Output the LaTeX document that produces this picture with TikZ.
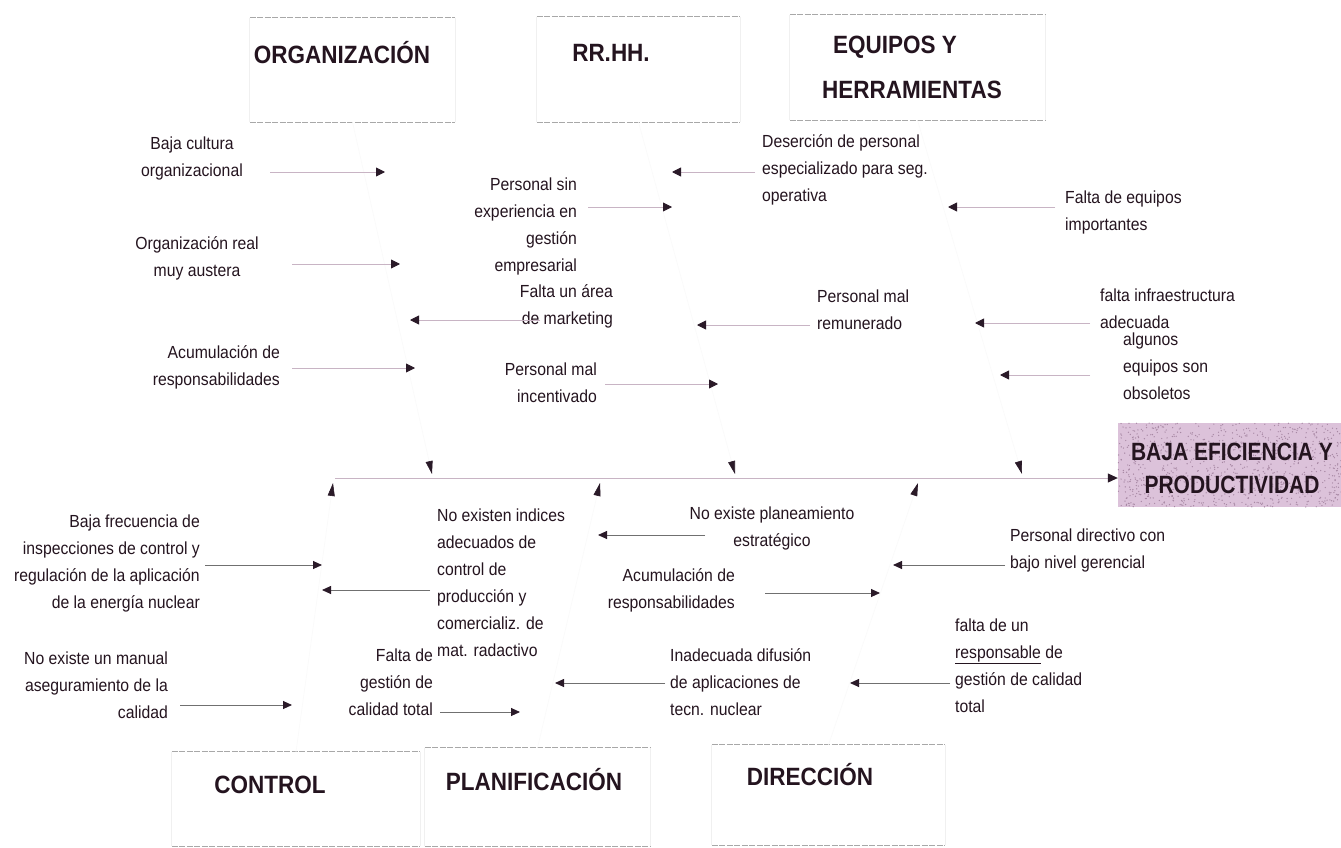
\documentclass[tikz,border=0pt]{standalone}
\usepackage{fontspec}
\setmainfont{Liberation Sans}
\newfontfamily\causefont{Liberation Sans}[FakeStretch=0.9]
\newfontfamily\headfont{Liberation Sans}[FakeStretch=0.9]
\newfontfamily\effectfont{Liberation Sans}[FakeStretch=0.84]
\usetikzlibrary{arrows.meta}

\definecolor{txtcol}{HTML}{24141F}
\definecolor{tipcol}{HTML}{2A1A28}
\definecolor{faintline}{HTML}{C8B4C4}
\definecolor{darkline}{HTML}{707070}
\definecolor{boxedge}{HTML}{A8A8A8}
\definecolor{boxside}{HTML}{F0F0F0}
\definecolor{effectfill}{HTML}{DCC2DA}
\definecolor{speck}{HTML}{A888A4}

\tikzset{
  cause/.style={font=\causefont\fontsize{17.5}{27}\selectfont, text=txtcol, inner sep=0pt},
  head/.style={font=\headfont\bfseries\fontsize{25}{33}\selectfont, text=txtcol, inner sep=0pt},
  efftext/.style={font=\effectfont\bfseries\fontsize{25}{33}\selectfont, text=txtcol, inner sep=0pt},
  catbox/.style={draw=none, inner sep=0pt},
  boxtop/.style={draw=boxedge, line width=0.8pt, dash pattern=on 6pt off 1.5pt},
  boxsidestyle/.style={draw=boxside, line width=0.8pt},
  upcause/.style={draw=faintline, line width=0.9pt, -{Triangle[length=9pt,width=9pt,color=tipcol]}},
  lowcause/.style={draw=darkline, line width=0.9pt, -{Triangle[length=9pt,width=8pt,color=tipcol]}},
  spine/.style={draw=faintline, line width=1pt, -{Triangle[length=10pt,width=9pt,color=tipcol]}},
  bone/.style={draw=black!2, line width=0.6pt, -{Triangle[length=13pt,width=7pt,color=tipcol]}},
}

\begin{document}
\begin{tikzpicture}[x=1pt,y=-1pt]
\useasboundingbox (0,0) rectangle (1341,848);
\fill[white] (0,0) rectangle (1341,848);

% ---------- category boxes ----------
\node[catbox, minimum width=205pt, minimum height=104pt] (orgbox)   at (352.5,70)  {};
\node[catbox, minimum width=203pt, minimum height=105pt] (rrhhbox)  at (638.5,69.5) {};
\node[catbox, minimum width=255pt, minimum height=105pt] (equipbox) at (917.5,67.5) {};
\node[catbox, minimum width=248pt, minimum height=94pt]  (ctrlbox)  at (296,799)   {};
\node[catbox, minimum width=225pt, minimum height=98pt]  (planbox)  at (537.5,797) {};
\node[catbox, minimum width=233pt, minimum height=100pt] (direcbox) at (828.5,795) {};

\foreach \b in {orgbox,rrhhbox,equipbox,ctrlbox,planbox,direcbox}{
  \draw[boxsidestyle] (\b.north west) -- (\b.south west) (\b.north east) -- (\b.south east);
  \draw[boxtop] (\b.north west) -- (\b.north east);
  \draw[boxtop] (\b.south west) -- (\b.south east);
}

\node[head] (orgtxt)    at (342,53) {ORGANIZACIÓN};
\node[head] (rrhhtxt)   at (611,53) {RR.HH.};
\node[head] (equiptxta) at (895,47) {EQUIPOS Y};
\node[head] (equiptxtb) at (912,90) {HERRAMIENTAS};
\node[head] (ctrltxt)   at (270,785) {CONTROL};
\node[head] (plantxt)   at (534,780) {PLANIFICACIÓN};
\node[head] (directxt)  at (810,775) {DIRECCIÓN};

% ---------- effect ----------
\node[catbox, minimum width=223pt, minimum height=84pt, fill=effectfill] (effect) at (1229.5,465) {};
\begin{scope}
  \clip (effect.north west) rectangle (effect.south east);
  \pgfmathsetseed{42}
  \foreach \k in {1,...,900}{
    \fill[speck] ({1118+223*rnd},{423+84*rnd}) circle (0.7pt);
  }
\end{scope}
\node[efftext, align=center] (efftxt) at (1232,468) {BAJA EFICIENCIA Y\\PRODUCTIVIDAD};

% ---------- spine and bones ----------
\coordinate (spStart) at (335,478);
\draw[spine] (spStart) -- (spStart -| effect.west);

\coordinate (tOrg)   at (432,474);
\coordinate (tRrhh)  at (735,474);
\coordinate (tEquip) at (1022,474);
\coordinate (tCtrl)  at (333,483);
\coordinate (tPlan)  at (600,483);
\coordinate (tDirec) at (918,483);
\draw[bone] (orgbox.south)   -- (tOrg);
\draw[bone] (rrhhbox.south)  -- (tRrhh);
\draw[bone] (equipbox.south) -- (tEquip);
\draw[bone] (ctrlbox.north)  -- (tCtrl);
\draw[bone] (planbox.north)  -- (tPlan);
\draw[bone] (direcbox.north) -- (tDirec);

% ---------- upper causes ----------
\node[cause, align=center] (c1) at (192,158) {Baja cultura\\organizacional};
\node[cause, align=right, anchor=east] (c2) at (577,226.5) {Personal sin\\experiencia en\\gestión\\empresarial};
\node[cause, align=left, anchor=west] (c3) at (762,170) {Deserción de personal\\especializado para seg.\\operativa};
\node[cause, align=left, anchor=west] (c4) at (1065,212.5) {Falta de equipos\\importantes};
\node[cause, align=center] (c5) at (197,258.5) {Organización real\\muy austera};
\node[cause, align=right, anchor=east] (c6) at (613,306.5) {Falta un área\\de marketing};
\node[cause, align=left, anchor=west] (c7) at (817,310) {Personal mal\\remunerado};
\node[cause, align=left, anchor=west] (c8) at (1100,309) {falta infraestructura\\adecuada};
\node[cause, align=left, anchor=west] (c9) at (1123,366.5) {algunos\\equipos son\\obsoletos};
\node[cause, align=right, anchor=east] (c10) at (280,367.5) {Acumulación de\\responsabilidades};
\node[cause, align=right, anchor=east] (c11) at (597,383) {Personal mal\\incentivado};

\coordinate (a1s) at (270,172);  \coordinate (a1e) at (385,172);
\coordinate (a2s) at (588,207);  \coordinate (a2e) at (672,207);
\coordinate (a3s) at (755,172);  \coordinate (a3e) at (672,172);
\coordinate (a4s) at (1055,207); \coordinate (a4e) at (948,207);
\coordinate (a5s) at (292,264);  \coordinate (a5e) at (400,264);
\coordinate (a6s) at (540,320);  \coordinate (a6e) at (410,320);
\coordinate (a7s) at (810,325);  \coordinate (a7e) at (697,325);
\coordinate (a8s) at (1090,323); \coordinate (a8e) at (975,323);
\coordinate (a9s) at (1090,375); \coordinate (a9e) at (1000,375);
\coordinate (a10s) at (292,368); \coordinate (a10e) at (415,368);
\coordinate (a11s) at (605,384); \coordinate (a11e) at (718,384);
\foreach \i in {1,...,11}{ \draw[upcause] (a\i s) -- (a\i e); }

% ---------- lower causes ----------
\node[cause, align=right, anchor=east] (d1) at (200,563.5) {Baja frecuencia de\\inspecciones de control y\\regulación de la aplicación\\de la energía nuclear};
\node[cause, align=left, anchor=west] (d2) at (437,582.5) {No existen indices\\adecuados de\\control de\\producción y\\comercializ. de\\mat. radactivo};
\node[cause, align=center] (d3) at (772,528) {No existe planeamiento\\estratégico};
\node[cause, align=left, anchor=west] (d4) at (1010,550) {Personal directivo con\\bajo nivel gerencial};
\node[cause, align=right, anchor=east] (d5) at (735,590.5) {Acumulación de\\responsabilidades};
\node[cause, align=left, anchor=west] (d6) at (955,665.5) {falta de un\\\underline{responsable} de\\gestión de calidad\\total};
\node[cause, align=left, anchor=west] (d7) at (670,682.5) {Inadecuada difusión\\de aplicaciones de\\tecn. nuclear};
\node[cause, align=right, anchor=east] (d8) at (168,685) {No existe un manual\\aseguramiento de la\\calidad};
\node[cause, align=right, anchor=east] (d9) at (433,682) {Falta de\\gestión de\\calidad total};

\coordinate (b1s) at (205,565);  \coordinate (b1e) at (322,565);
\coordinate (b2s) at (430,590);  \coordinate (b2e) at (322,590);
\coordinate (b3s) at (705,535);  \coordinate (b3e) at (598,535);
\coordinate (b4s) at (1005,565); \coordinate (b4e) at (893,565);
\coordinate (b5s) at (765,593);  \coordinate (b5e) at (880,593);
\coordinate (b6s) at (665,683);  \coordinate (b6e) at (555,683);
\coordinate (b7s) at (950,683);  \coordinate (b7e) at (850,683);
\coordinate (b8s) at (180,705);  \coordinate (b8e) at (292,705);
\coordinate (b9s) at (440,712);  \coordinate (b9e) at (520,712);
\foreach \i in {1,...,9}{ \draw[lowcause] (b\i s) -- (b\i e); }

\end{tikzpicture}
\end{document}
